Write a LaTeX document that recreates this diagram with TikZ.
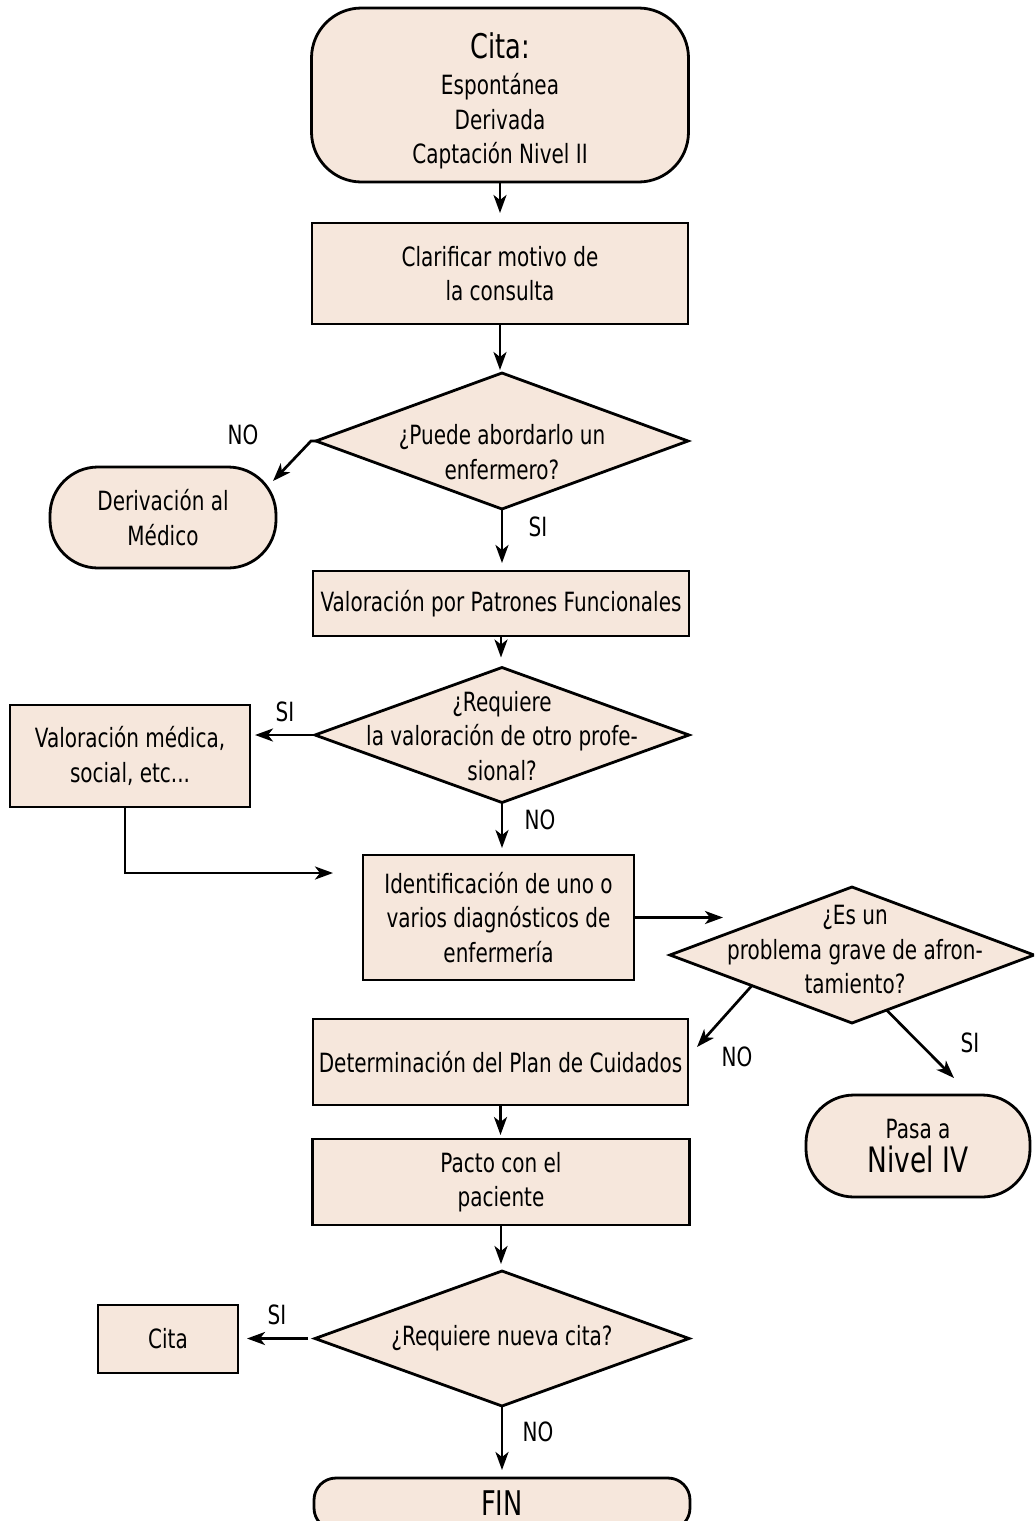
\documentclass[tikz,border=0pt]{standalone}
\usepackage{fontspec}
\setmainfont{DejaVu Sans}[FakeStretch=0.755]
\usetikzlibrary{arrows.meta,shapes.geometric,calc}
\definecolor{boxfill}{RGB}{246,231,220}
\begin{document}
\begin{tikzpicture}[x=1pt,y=-1pt,
  every node/.style={inner sep=0pt, outer sep=0pt},
  txt/.style={font=\fontsize{26.5}{34.5}\selectfont, align=center},
  proc/.style={draw, line width=2.8pt, fill=boxfill, rectangle, txt},
  term/.style={proc, rounded corners=48pt},
  dia/.style={draw, line width=2.8pt, fill=boxfill, diamond},
  lbl/.style={font=\fontsize{26.5}{30}\selectfont},
  arr/.style={line width=2.7pt, -{Stealth[length=18pt,width=13pt,inset=5pt]}}
]
\useasboundingbox (0,0) rectangle (1034,1521);
\clip (0,0) rectangle (1034,1521);

% nodes
\node[term, rounded corners=50pt, minimum width=377pt, minimum height=174pt] (start) at (500,95) {};
\node[txt] (startT) at (500,101) {{\fontsize{34}{36}\selectfont Cita:}\\[1.5pt]Espontánea\\Derivada\\Captación Nivel II};

\node[proc, minimum width=376pt, minimum height=101pt] (clarif) at (500,273.5) {Clarificar motivo de\\la consulta};

\node[dia, minimum width=372pt, minimum height=136pt] (d1) at (502,441) {};
\node[txt] (d1T) at (502,452) {¿Puede abordarlo un\\enfermero?};

\node[term, minimum width=226pt, minimum height=101pt] (der) at (163,517.5) {Derivación al\\Médico};

\node[proc, minimum width=376pt, minimum height=65pt] (valpat) at (501,603.5) {Valoración por Patrones Funcionales};

\node[dia, minimum width=374pt, minimum height=135pt] (d2) at (502,735) {};
\node[txt] (d2T) at (502,736) {¿Requiere\\la valoración de otro profe-\\sional?};

\node[proc, minimum width=240pt, minimum height=102pt] (valmed) at (130,756) {Valoración médica,\\social, etc...};

\node[proc, minimum width=271pt, minimum height=125pt] (ident) at (498.5,917.5) {Identificación de uno o\\varios diagnósticos de\\enfermería};

\node[dia, minimum width=364pt, minimum height=136pt] (d3) at (852,955) {};
\node[txt] (d3T) at (855,950) {¿Es un\\problema grave de afron-\\tamiento?};

\node[proc, minimum width=375pt, minimum height=86pt] (det) at (500.5,1062) {Determinación del Plan de Cuidados};

\node[term, minimum width=224pt, minimum height=102pt] (pasa) at (918,1146) {Pasa a\\{\fontsize{35}{36}\selectfont Nivel IV}};

\node[proc, minimum width=377pt, minimum height=86pt] (pacto) at (501,1182) {Pacto con el\\paciente};

\node[dia, minimum width=374pt, minimum height=135pt] (d4) at (502,1338.5) {};
\node[txt] (d4T) at (502,1338) {¿Requiere nueva cita?};

\node[proc, line width=2pt, minimum width=140pt, minimum height=68pt] (cita) at (168,1339) {Cita};

\node[term, rounded corners=22pt, minimum width=376pt, minimum height=52pt] (fin) at (502,1504) {};
\node[font=\fontsize{34}{36}\selectfont] (finT) at (502,1503) {FIN};

% free ends
\coordinate (derin) at (273,481);
\coordinate (jn) at (333,873);
\coordinate (d3in) at (723,917.5);
\coordinate (d3no) at (697,1047);
\coordinate (d3si) at (954,1078);

% connectors
\draw[arr, shorten >=10pt] (start.south) -- (start.south |- clarif.north);
\draw[arr, shorten >=3pt] (clarif.south) -- (clarif.south |- d1.north);
\draw[arr] (d1.west) -- ++(-5,0) -- (derin);
\draw[arr, shorten >=8pt] (d1.south) -- (d1.south |- valpat.north);
\draw[arr, shorten >=10pt] (valpat.south) -- (valpat.south |- d2.north);
\draw[arr, shorten >=5pt] (d2.west) -- (d2.west -| valmed.east);
\draw[arr, shorten >=7pt] (d2.south) -- (d2.south |- ident.north);
\draw[arr] ([xshift=-5pt]valmed.south) |- (jn);
\draw[arr] (ident.east) -- (d3in);
\draw[arr] ($(d3.west)!0.45!(d3.south)$) -- (d3no);
\draw[arr] ($(d3.south)!0.19!(d3.east)$) -- (d3si);
\draw[arr, shorten >=4pt] (det.south) -- (det.south |- pacto.north);
\draw[arr, shorten >=7pt] (pacto.south) -- (pacto.south |- d4.north);
\draw[arr, shorten <=7pt, shorten >=9pt] (d4.west) -- (d4.west -| cita.east);
\draw[arr, shorten >=8pt] (d4.south) -- (d4.south |- fin.north);

% labels
\node[lbl] (l1) at (243,435) {NO};
\node[lbl] (l2) at (538,527) {SI};
\node[lbl] (l3) at (285,712) {SI};
\node[lbl] (l4) at (540,820) {NO};
\node[lbl] (l5) at (737,1057) {NO};
\node[lbl] (l6) at (970,1043) {SI};
\node[lbl] (l7) at (277,1315) {SI};
\node[lbl] (l8) at (538,1432) {NO};
\end{tikzpicture}
\end{document}
